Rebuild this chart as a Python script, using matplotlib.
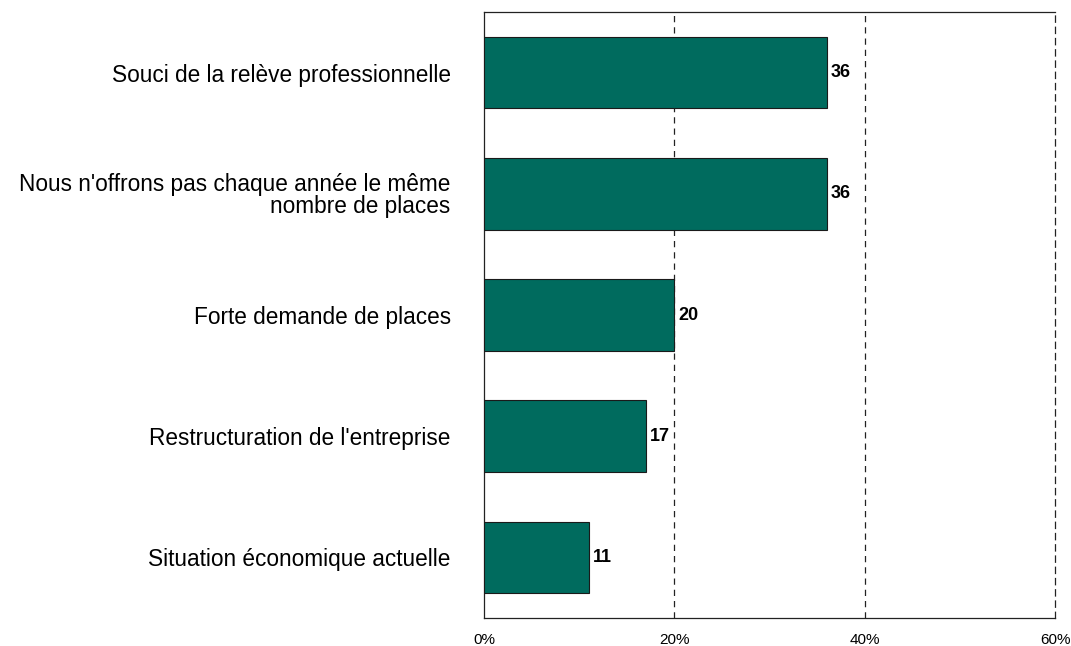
import numpy as np
import matplotlib.pyplot as plt

plt.rcParams['font.family'] = ['Liberation Sans', 'DejaVu Sans']

categories = ["Souci de la relève professionnelle",
              "Nous n'offrons pas chaque année le même\nnombre de places",
              "Forte demande de places",
              "Restructuration de l'entreprise",
              "Situation économique actuelle"]
values = [36, 36, 20, 17, 11]
xticks = [0, 20, 40, 60]
xtick_labels = ["0%", "20%", "40%", "60%"]

fig = plt.figure(figsize=(10.71, 6.46), dpi=100)
ax = fig.add_axes([0.4519, 0.0433, 0.5332, 0.9381])

y = np.arange(len(values))
ax.barh(y, values, height=0.59, color='#006B5E', edgecolor='#1a1a1a', linewidth=0.8, zorder=3)
for yi, v in zip(y, values):
    ax.text(v + 0.4, yi, str(v), va='center', ha='left', fontsize=13, fontweight='bold', zorder=4)

ax.set_xlim(0, 60)
ax.set_ylim(len(values) - 0.5, -0.5)
ax.set_yticks(y)
ax.set_yticklabels(categories, fontsize=16.3, ha='right', linespacing=0.95)
ax.set_xticks(xticks)
ax.set_xticklabels(xtick_labels, fontsize=11)
ax.tick_params(axis='both', length=0)
ax.tick_params(axis='y', pad=24)
ax.tick_params(axis='x', pad=11)

for xv in [20, 40]:
    ax.axvline(xv, color='#222222', linestyle=(0, (5, 4)), linewidth=0.9, zorder=1)
ax.spines['right'].set_linestyle((0, (5, 4)))
for s in ax.spines.values():
    s.set_linewidth(0.9)
    s.set_color('#222222')

fig.savefig('out.png', dpi=100)
